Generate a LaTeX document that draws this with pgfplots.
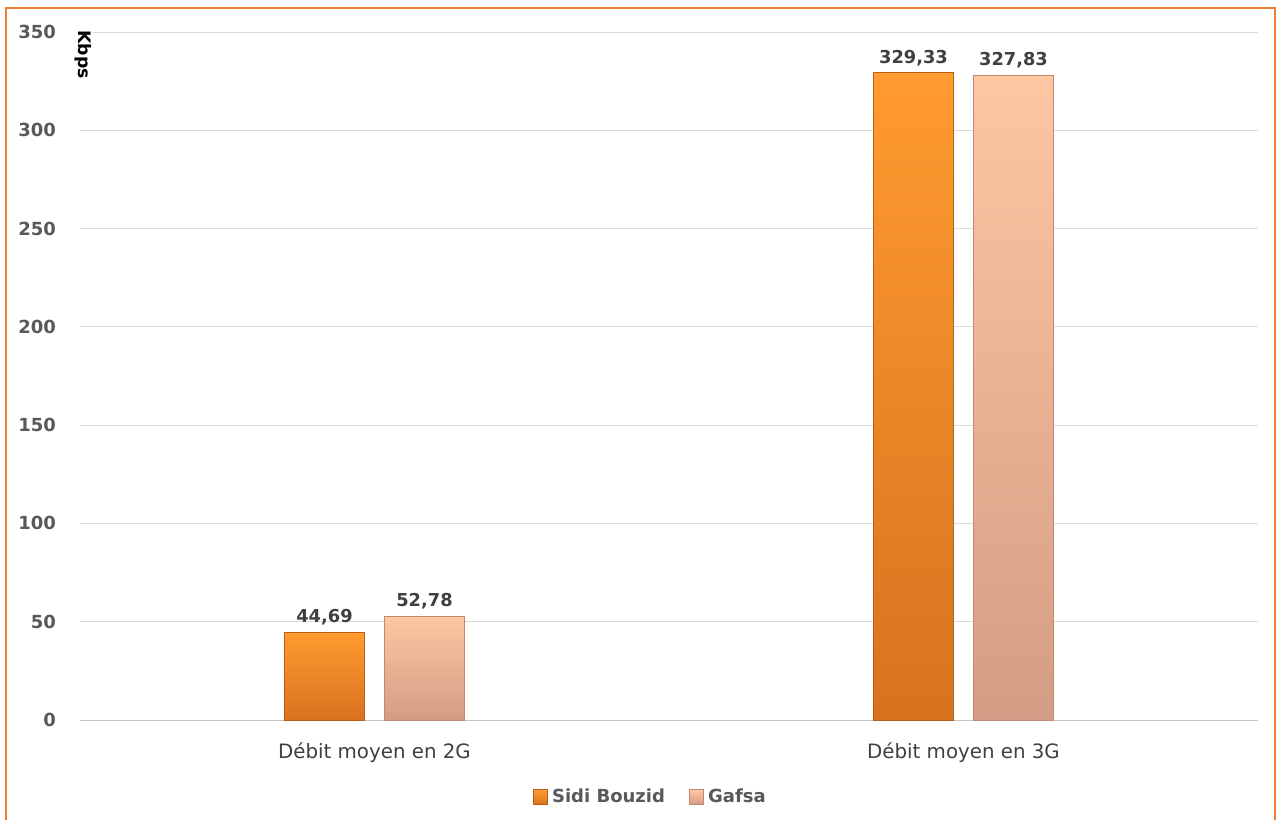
\documentclass[border=0pt]{standalone}
\usepackage{pgfplots}
\pgfplotsset{compat=1.18}
\usepackage{fontspec}
\setmainfont{DejaVu Sans}
\definecolor{frameor}{HTML}{ED7D31}
\definecolor{txtgray}{HTML}{595959}
\definecolor{lblgray}{HTML}{404040}
\definecolor{sbtop}{HTML}{FF9B30}
\definecolor{sbbot}{HTML}{D8721F}
\definecolor{sbedge}{HTML}{B85F18}
\definecolor{gftop}{HTML}{FFC6A2}
\definecolor{gfbot}{HTML}{D49C84}
\definecolor{gfedge}{HTML}{C08A72}
\begin{document}
\begin{tikzpicture}
\fill[white] (0,0) rectangle (639pt,410pt);
\draw[frameor, line width=0.8pt] (3pt,0) -- (3pt,406pt) -- (637.5pt,406pt) -- (637.5pt,0);
\begin{axis}[
  at={(40pt,50pt)}, anchor=south west,
  scale only axis, width=589pt, height=344pt,
  xmin=-0.5, xmax=1.5, ymin=0, ymax=350,
  xtick={0,1}, xticklabels={Débit moyen en 2G, Débit moyen en 3G},
  ytick={0,50,...,350},
  axis x line*=bottom, axis y line*=left,
  x axis line style={draw=gray!45, -},
  y axis line style={draw=none},
  major tick length=0pt,
  ymajorgrids, grid style={draw=gray!28, line width=0.5pt},
  /pgf/number format/assume math mode=true,
  yticklabel style={font=\fontsize{9}{10}\selectfont\bfseries, text=txtgray, xshift=-8.5pt},
  xticklabel style={font=\fontsize{9.9}{12}\selectfont, text=lblgray, yshift=-8pt},
  ybar, bar width=40pt,
  nodes near coords={\pgfmathprintnumber[use comma,fixed,fixed zerofill,precision=2]{\pgfplotspointmeta}},
  nodes near coords style={font=\fontsize{8.9}{10}\selectfont\bfseries, text=lblgray, /pgf/number format/assume math mode=true},
  legend columns=2,
  legend style={at={(0.485,-0.112)}, anchor=center, draw=none, fill=none,
    font=\fontsize{9}{10}\selectfont\bfseries, text=txtgray,
    /tikz/every even column/.append style={column sep=10pt}},
  legend image code/.code={\draw[#1] (0pt,-3.6pt) rectangle (7.2pt,3.6pt);},
  clip=false,
]
\addplot[bar shift=-25pt, draw=sbedge, line width=0.4pt, top color=sbtop, bottom color=sbbot]
  coordinates {(0,44.69)};
\addlegendentry{Sidi Bouzid}
\addplot[bar shift=25pt, draw=gfedge, line width=0.4pt, top color=gftop, bottom color=gfbot]
  coordinates {(0,52.78)};
\addlegendentry{Gafsa}
\addplot[forget plot, bar shift=-25pt, draw=sbedge, line width=0.4pt, top color=sbtop, bottom color=sbbot]
  coordinates {(1,329.33)};
\addplot[forget plot, bar shift=25pt, draw=gfedge, line width=0.4pt, top color=gftop, bottom color=gfbot]
  coordinates {(1,327.83)};
\end{axis}
\node[rotate=-90, anchor=west, fill=white, inner sep=1pt, font=\fontsize{8.6}{10}\selectfont\bfseries] at (41.5pt,396pt) {Kbps};
\end{tikzpicture}
\end{document}
